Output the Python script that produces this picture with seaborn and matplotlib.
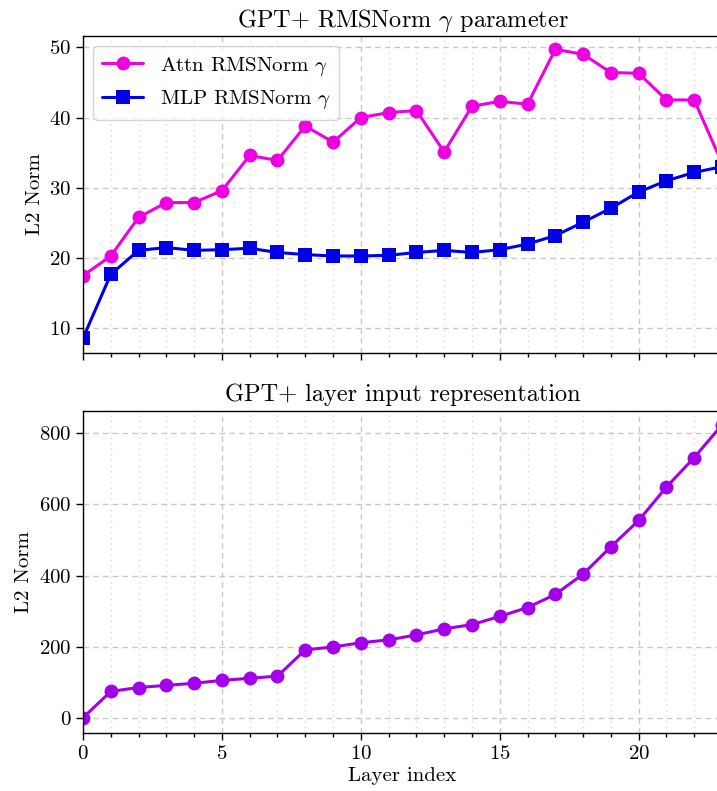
import numpy as np
import pandas as pd
import matplotlib
matplotlib.use("Agg")
import matplotlib.pyplot as plt
from matplotlib.ticker import MultipleLocator
import seaborn as sns

layers = list(range(24))
attn_gamma = [17.5, 20.3, 25.8, 27.9, 27.9, 29.6, 34.6, 33.9, 38.8, 36.5, 40.0, 40.7,
              41.0, 35.1, 41.6, 42.3, 41.9, 49.7, 49.0, 46.4, 46.3, 42.5, 42.5, 33.5]
mlp_gamma = [8.6, 17.7, 21.1, 21.5, 21.1, 21.2, 21.4, 20.8, 20.5, 20.3, 20.3, 20.4,
             20.8, 21.1, 20.8, 21.2, 22.0, 23.2, 25.1, 27.1, 29.4, 31.0, 32.2, 33.0]
input_norm = [0, 74, 85, 91, 97, 105, 111, 117, 191, 199, 211, 219,
              233, 250, 262, 285, 310, 347, 404, 481, 555, 649, 732, 824]

sns.set_theme(style="ticks")
plt.rcParams.update({
    "font.family": "serif",
    "font.serif": ["cmr10"],
    "mathtext.fontset": "cm",
    "axes.formatter.use_mathtext": True,
    "axes.unicode_minus": False,
    "axes.edgecolor": "black",
    "axes.linewidth": 1.0,
    "xtick.color": "black",
    "ytick.color": "black",
    "text.color": "black",
    "axes.labelcolor": "black",
})

fig = plt.figure(figsize=(7.17, 7.91), dpi=100)
ax1 = fig.add_axes([83/717, 1-353/791, (722-83)/717, (353-36)/791])
ax2 = fig.add_axes([83/717, 1-733/791, (722-83)/717, (733-411)/791], sharex=ax1)

df1 = pd.DataFrame({"layer": layers, "attn": attn_gamma, "mlp": mlp_gamma})
df2 = pd.DataFrame({"layer": layers, "norm": input_norm})

sns.lineplot(data=df1, x="layer", y="attn", ax=ax1, color="#ee00e0", marker="o",
             markersize=10, markeredgewidth=0, linewidth=2.2, label=r"Attn RMSNorm $\gamma$")
sns.lineplot(data=df1, x="layer", y="mlp", ax=ax1, color="#0000e6", marker="s",
             markersize=10, markeredgewidth=0, linewidth=2.2, label=r"MLP RMSNorm $\gamma$")
sns.lineplot(data=df2, x="layer", y="norm", ax=ax2, color="#a200e8", marker="o",
             markersize=10, markeredgewidth=0, linewidth=2.2)

for ax in (ax1, ax2):
    ax.set_xlim(0, 23)
    ax.xaxis.set_major_locator(MultipleLocator(5))
    ax.xaxis.set_minor_locator(MultipleLocator(1))
    ax.grid(True, which="major", linestyle=(0, (4, 3)), color="#c8c8c8", linewidth=1.0)
    ax.grid(True, which="minor", axis="x", linestyle=(0, (1, 3)), color="#d8d8d8", linewidth=1.0)
    ax.tick_params(axis="both", which="major", labelsize=15, length=5, width=1, direction="out")
    ax.tick_params(axis="x", which="minor", length=3, width=1, direction="out")
    ax.set_axisbelow(True)
    ax.set_ylabel("L2 Norm", fontsize=15)
    for s in ax.spines.values():
        s.set_visible(True)

ax1.set_ylim(6.5, 51.6)
ax1.yaxis.set_major_locator(MultipleLocator(10))
ax1.tick_params(axis="x", which="both", labelbottom=False)
ax1.set_xlabel("")
ax1.set_title(r"GPT+ RMSNorm $\gamma$ parameter", fontsize=17.5, pad=7)
leg = ax1.legend(loc="upper left", fontsize=15, frameon=True, fancybox=True,
                 edgecolor="#cccccc", framealpha=0.8, handlelength=2.0)

ax2.set_ylim(-43, 863)
ax2.yaxis.set_major_locator(MultipleLocator(200))
ax2.set_xlabel("Layer index", fontsize=15, labelpad=3)
ax2.set_title("GPT+ layer input representation", fontsize=17.5, pad=7)

fig.savefig("out.png", dpi=100)
